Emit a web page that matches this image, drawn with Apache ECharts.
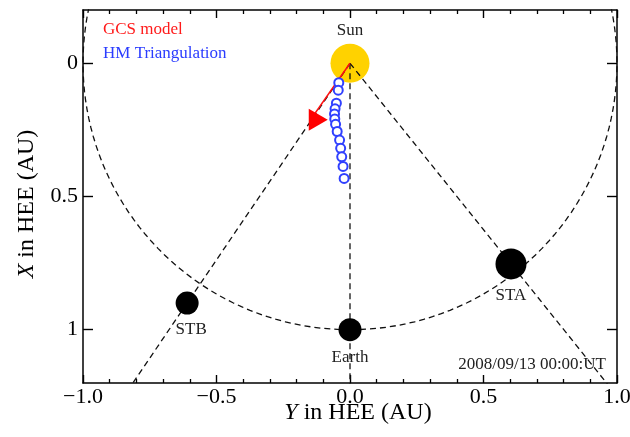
<!DOCTYPE html>
<html>
<head>
<meta charset="utf-8">
<script src="https://cdn.jsdelivr.net/npm/echarts@6/dist/echarts.min.js"></script>
<style>html,body{margin:0;padding:0;background:#fff}#c{width:630px;height:437px}</style>
</head>
<body>
<div id="c"></div>
<script>
// Data: positions are [Y_HEE, X_HEE] in AU
const sunPos = [0, 0];
const earthPos = [0, 1.0];
const stbPos = [-0.61, 0.90];
const staPos = [0.603, 0.753];
const orbitRadius = 1.0;
const hmY = [-0.042, -0.044, -0.051, -0.056, -0.058, -0.057, -0.054, -0.048, -0.039, -0.035, -0.031, -0.026, -0.022];
const hmX = [0.073, 0.101, 0.150, 0.171, 0.190, 0.209, 0.229, 0.256, 0.288, 0.319, 0.351, 0.387, 0.432];
const gcsArrowEnd = [-0.143, 0.205];
const gcsTriangle = [-0.119, 0.212];
const xTickValues = [-1, -0.5, 0, 0.5, 1];
const xTickLabels = ['−1.0', '−0.5', '0.0', '0.5', '1.0'];
const yTickValues = [0, 0.5, 1];
const yTickLabels = ['0', '0.5', '1'];
const dateText = '2008/09/13 00:00:UT';

const FONT = '"Liberation Serif", "DejaVu Serif", serif';
const INK = '#000';

// Orbit of radius 1 AU around the Sun
const orbit = [];
for (let a = 0; a <= 360; a += 2) {
  const t = a * Math.PI / 180;
  orbit.push([sunPos[0] + orbitRadius * Math.sin(t), sunPos[1] + orbitRadius * Math.cos(t)]);
}
// Sun-to-spacecraft lines, extended beyond the frame (clipped by the grid)
const ext = p => [sunPos, [p[0] * 2, p[1] * 2]];
const hm = hmY.map((y, i) => [y, hmX[i]]);

const dashed = { color: '#111', width: 1.3, type: [6, 4] };

const xAxisBase = {
  type: 'value', min: -1, max: 1, interval: 0.5,
  axisLine: { onZero: false, lineStyle: { color: INK, width: 1.5 } },
  axisTick: { show: true, inside: true, length: 8, lineStyle: { color: INK, width: 1.4 } },
  minorTick: { show: true, splitNumber: 5, length: 4, lineStyle: { color: INK, width: 1.3 } },
  splitLine: { show: false }
};
const yAxisBase = {
  type: 'value', min: -0.2, max: 1.2, inverse: true,
  axisLine: { onZero: false, lineStyle: { color: INK, width: 1.5 } },
  axisTick: { show: true, inside: true, length: 10, customValues: yTickValues, lineStyle: { color: INK, width: 1.4 } },
  splitLine: { show: false }
};

const labelStyle = { fontFamily: FONT, fontSize: 17, color: '#222' };

const option = {
  animation: false,
  grid: { left: 83, right: 13, top: 10, bottom: 54, containLabel: false, outerBoundsMode: 'none' },
  xAxis: [
    Object.assign({}, xAxisBase, {
      position: 'bottom',
      axisLabel: {
        margin: 3, fontFamily: FONT, fontSize: 22, color: INK,
        formatter: v => xTickLabels[xTickValues.findIndex(t => Math.abs(t - v) < 1e-9)] || ''
      }
    }),
    Object.assign({}, xAxisBase, { position: 'top', axisLabel: { show: false } })
  ],
  yAxis: [
    Object.assign({}, yAxisBase, {
      position: 'left',
      axisLabel: {
        customValues: yTickValues, margin: 5, fontFamily: FONT, fontSize: 22, color: INK,
        formatter: v => yTickLabels[yTickValues.findIndex(t => Math.abs(t - v) < 1e-9)] || ''
      }
    }),
    Object.assign({}, yAxisBase, { position: 'right', axisLabel: { show: false } })
  ],
  series: [
    { type: 'scatter', z: 1, data: [sunPos], symbolSize: 39, itemStyle: { color: '#FFD200', opacity: 1 },
      label: { show: true, position: 'top', distance: 5, formatter: 'Sun', ...labelStyle } },
    { type: 'line', z: 2, data: orbit, showSymbol: false, symbol: 'none', clip: true, lineStyle: dashed },
    { type: 'line', z: 2, data: ext(stbPos), symbol: 'none', clip: true, lineStyle: dashed },
    { type: 'line', z: 2, data: ext(earthPos), symbol: 'none', clip: true, lineStyle: dashed },
    { type: 'line', z: 2, data: ext(staPos), symbol: 'none', clip: true, lineStyle: dashed },
    { type: 'line', z: 3, data: [sunPos, gcsArrowEnd], symbol: 'none', lineStyle: { color: '#ff1010', width: 1.6 } },
    { type: 'scatter', z: 3, data: [gcsTriangle], symbol: 'triangle', symbolSize: [22, 19], symbolRotate: -90,
      itemStyle: { color: '#ff0000', opacity: 1 } },
    { type: 'scatter', z: 3, data: hm, symbol: 'emptyCircle', symbolSize: 9,
      itemStyle: { color: '#3040ff', borderColor: '#3040ff', borderWidth: 1.2, opacity: 1 } },
    { type: 'scatter', z: 4, data: [earthPos], symbolSize: 23, itemStyle: { color: '#000', opacity: 1 },
      label: { show: true, position: 'bottom', distance: 8, formatter: 'Earth', ...labelStyle } },
    { type: 'scatter', z: 4, data: [stbPos], symbolSize: 23, itemStyle: { color: '#000', opacity: 1 },
      label: { show: true, position: 'bottom', distance: 6, offset: [4, 0], formatter: 'STB', ...labelStyle } },
    { type: 'scatter', z: 4, data: [staPos], symbolSize: 31, itemStyle: { color: '#000', opacity: 1 },
      label: { show: true, position: 'bottom', distance: 8, formatter: 'STA', ...labelStyle } }
  ],
  graphic: [
    { type: 'text', x: 103, y: 30, z: 10, style: { text: 'GCS model', fill: '#ff1a1a', font: '17px ' + FONT, align: 'left', verticalAlign: 'middle' } },
    { type: 'text', x: 103, y: 54, z: 10, style: { text: 'HM Triangulation', fill: '#2a3cff', font: '17px ' + FONT, align: 'left', verticalAlign: 'middle' } },
    { type: 'text', x: 606, y: 365, z: 10, style: { text: dateText, fill: '#222', font: '17px ' + FONT, align: 'right', verticalAlign: 'middle' } },
    { type: 'text', x: 358, y: 413, z: 10, style: {
        text: '{i|Y} in HEE (AU)', fill: INK, font: '24px ' + FONT, align: 'center', verticalAlign: 'middle',
        rich: { i: { fontStyle: 'italic', fontFamily: FONT, fontSize: 24, fill: INK } } } },
    { type: 'text', x: 27, y: 204, rotation: Math.PI / 2, z: 10, style: {
        text: '{i|X} in HEE (AU)', fill: INK, font: '24px ' + FONT, align: 'center', verticalAlign: 'middle',
        rich: { i: { fontStyle: 'italic', fontFamily: FONT, fontSize: 24, fill: INK } } } }
  ]
};

const chart = echarts.init(document.getElementById('c'), null, { renderer: 'canvas' });
chart.setOption(option);
</script>
</body>
</html>
